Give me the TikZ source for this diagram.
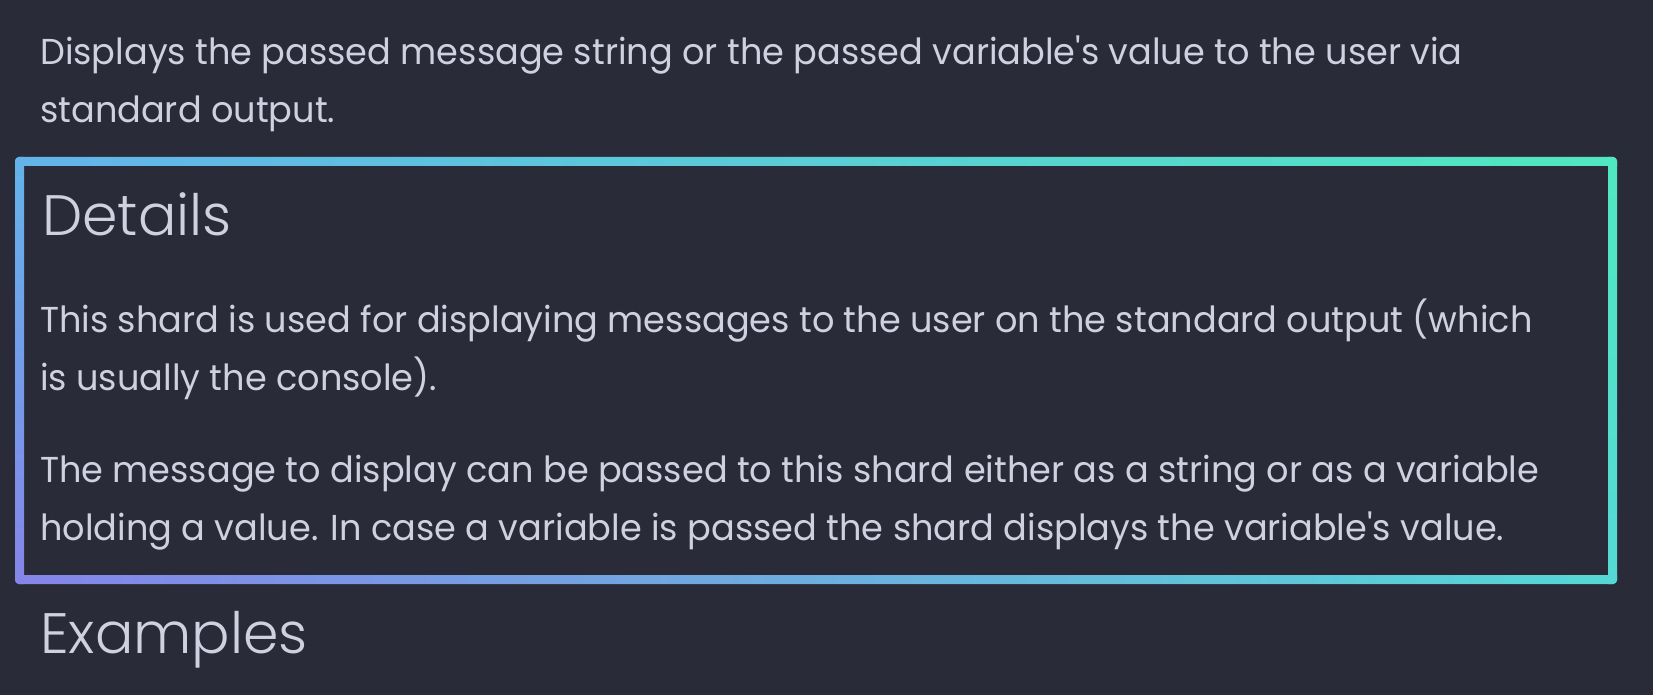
\documentclass[tikz,border=0pt]{standalone}
\usepackage{fontspec}
\newfontfamily\bodyfont{Poppins}[FakeStretch=0.975]
\newfontfamily\headfont{Poppins Light}
\definecolor{pagebg}{HTML}{292B39}
\definecolor{inktext}{HTML}{CFD0E0}
\definecolor{gpurple}{HTML}{8585E8}
\definecolor{gviolet}{HTML}{7499E9}
\definecolor{gblue}{HTML}{63B3EA}
\definecolor{gsky}{HTML}{5EC2E6}
\definecolor{gcyan}{HTML}{5AD2DC}
\definecolor{gturq}{HTML}{55D8D5}
\definecolor{gmint}{HTML}{52E0CA}
\definecolor{ggreen}{HTML}{50E8C0}
\tikzset{
  bodyline/.style={anchor=base west, inner sep=0pt, text=inktext, font=\bodyfont\fontsize{36}{58}\selectfont},
  headline/.style={anchor=base west, inner sep=0pt, text=inktext, font=\headfont\fontsize{57}{70}\selectfont},
}
\begin{document}
\begin{tikzpicture}[x=1pt,y=-1pt]
    \def\xl{15} \def\xr{1617} \def\yt{157} \def\yb{584} \def\bw{9}
    \fill[pagebg] (0,0) rectangle (1653,695);
    \useasboundingbox (0,0) rectangle (1653,695);
    % gradient frame
    \begin{scope}
        \clip[rounded corners=4pt] (\xl,\yt) rectangle (\xr,\yb);
        \shade[left color=gblue, middle color=gcyan, right color=ggreen] (\xl,\yt) rectangle (\xr,\yt+\bw);
        \shade[left color=gpurple, middle color=gsky, right color=gturq] (\xl,\yb-\bw) rectangle (\xr,\yb);
        \shade[bottom color=gpurple, middle color=gviolet, top color=gblue] (\xl,\yt) rectangle (\xl+\bw,\yb);
        \shade[bottom color=gturq, middle color=gmint, top color=ggreen] (\xr-\bw,\yt) rectangle (\xr,\yb);
    \end{scope}
    % text
    \node[bodyline] (intro1) at (40,65) {Displays the passed message string or the passed variable's value to the user via};
    \node[bodyline] (intro2) at (40,123) {standard output.};
    \node[headline] (details) at (42,235) {Details};
    \node[bodyline] (para1a) at (40,332) {This shard is used for displaying messages to the user on the standard output (which};
    \node[bodyline] (para1b) at (40,390) {is usually the console).};
    \node[bodyline] (para2a) at (40,482) {The message to display can be passed to this shard either as a string or as a variable};
    \node[bodyline] (para2b) at (40,540) {holding a value. In case a variable is passed the shard displays the variable's value.};
    \node[headline] (examples) at (40,653) {Examples};
\end{tikzpicture}
\end{document}
